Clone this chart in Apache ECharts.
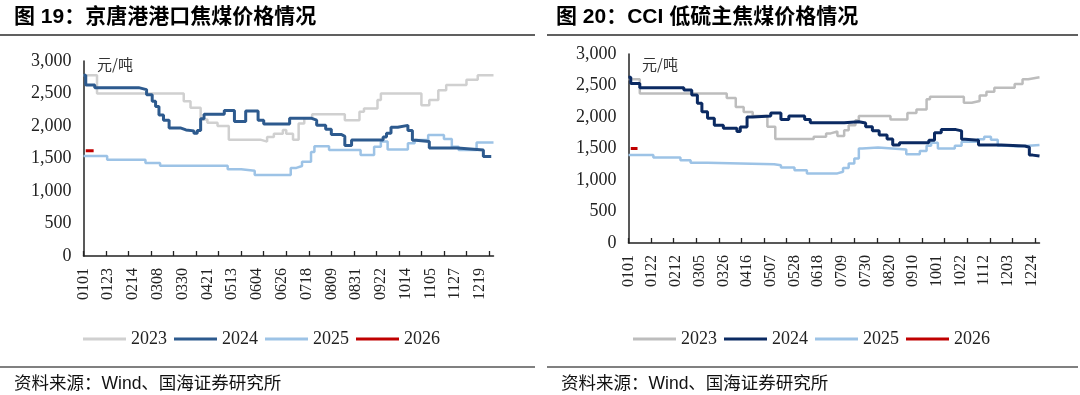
<!DOCTYPE html>
<html>
<head>
<meta charset="utf-8">
<script src="https://cdn.jsdelivr.net/npm/echarts@6/dist/echarts.min.js"></script>
<style>
html,body{margin:0;padding:0;background:#fff;}
#main{width:1080px;height:395px;}
</style>
</head>
<body>
<div id="main"></div>
<script>
// ---- Categories: every day of a (non-leap) year, MMDD ----
const monthDays = [31,28,31,30,31,30,31,31,30,31,30,31];
const days = [];
for (let m = 0; m < 12; m++) {
  for (let d = 1; d <= monthDays[m]; d++) {
    days.push(String(m + 1).padStart(2, '0') + String(d).padStart(2, '0'));
  }
}
const seriesNames = ['2023', '2024', '2025', '2026'];
const yTicks = [0, 500, 1000, 1500, 2000, 2500, 3000];

// ---- Chart 19: 京唐港港口焦煤价格 (values at change dates, held until next date) ----
const jt2023Dates = ['0101','0113','0331','0406','0415','0421','0430','0510','0607','0613','0619','0627','0630','0706','0711','0716','0723','0821','0903','0907','0919','0922','1028','1104','1112','1119','1207','1217','1231'];
const jt2023Vals  = [2780,2500,2380,2280,2100,2050,2000,1790,1760,1830,1880,1940,1880,1790,2040,2120,2180,2090,2220,2270,2400,2500,2320,2400,2550,2630,2710,2780,2780];
const jt2024Dates = ['0101','0103','0111','0219','0226','0303','0306','0309','0313','0318','0328','0402','0409','0412','0415','0418','0506','0515','0525','0605','0610','0703','0722','0727','0804','0809','0818','0821','0827','0924','0927','1001','1007','1016','1020','1023','1104','1129','1222','1229'];
const jt2024Vals  = [2780,2630,2590,2560,2480,2380,2300,2170,2090,1970,1940,1925,1890,1930,2110,2180,2240,2070,2230,2090,2030,2120,2090,2010,1950,1870,1840,1700,1785,1830,1890,1980,2010,1930,1780,1760,1660,1630,1530,1530];
const jt2025Dates = ['0101','0122','0225','0310','0509','0521','0602','0704','0709','0714','0722','0725','0807','0904','0916','0922','0928','1016','1022','1103','1117','1124','1130','1216','1231'];
const jt2025Vals  = [1540,1480,1430,1390,1335,1310,1245,1355,1385,1450,1600,1690,1630,1555,1680,1760,1640,1735,1785,1860,1800,1680,1630,1745,1745];
const jt2026Dates = ['0103','0110'];
const jt2026Vals  = [1620,1620];

// ---- Chart 20: CCI 低硫主焦煤价格 ----
const cci2023Dates = ['0101','0111','0329','0406','0413','0421','0504','0511','0614','0625','0629','0705','0711','0715','0721','0724','0821','0905','0913','0922','0925','1025','1101','1108','1114','1121','1209','1216','1221','1231'];
const cci2023Vals  = [2600,2375,2300,2160,2080,2015,1845,1650,1685,1740,1770,1700,1790,1870,1950,2015,1960,2065,2120,2280,2320,2225,2255,2340,2400,2465,2525,2600,2630,2630];
const cci2024Dates = ['0101','0103','0111','0219','0226','0303','0307','0312','0318','0326','0407','0410','0416','0421','0507','0516','0523','0606','0611','0711','0724','0730','0805','0811','0818','0823','0829','0924','0929','1005','1018','1023','1026','1107','1127','1218','1222','1225','1231'];
const cci2024Vals  = [2630,2530,2465,2430,2350,2220,2085,1980,1870,1820,1770,1840,2000,2015,2065,1960,2015,1960,1910,1925,1905,1845,1780,1715,1650,1555,1590,1630,1750,1800,1780,1645,1630,1555,1540,1520,1395,1380,1380];
const cci2025Dates = ['0101','0123','0216','0225','0312','0510','0516','0528','0608','0705','0710','0715','0720','0724','0727','0810','0904','0916','0922','0926','1002','1017','1023','1106','1112','1118','1124','1203','1212','1231'];
const cci2025Vals  = [1395,1357,1315,1272,1251,1235,1200,1156,1105,1130,1190,1262,1340,1500,1515,1485,1410,1460,1545,1590,1500,1545,1606,1645,1685,1640,1545,1530,1555,1555];
const cci2026Dates = ['0103','0109'];
const cci2026Vals  = [1500,1500];

// ---- build helpers ----
function pairs(dates, vals) {
  return dates.map((d, i) => [days.indexOf(d), vals[i]]);
}
const serifFont = '"Liberation Serif", "Times New Roman", serif';
const cjkFont = '"Liberation Sans", Arial, "Noto Sans CJK SC", sans-serif';
function fmtThousands(v) { return String(v).replace(/\B(?=(\d{3})+(?!\d))/g, ','); }

const leftColors  = ['#d0d0d0', '#2d5a8e', '#9dc3e6', '#c00000'];
const rightColors = ['#bdbdbd', '#0b2a62', '#9dc3e6', '#c00000'];

function xAxisCfg(gridIndex, labelInterval) {
  return {
    type: 'category', gridIndex: gridIndex, data: days, boundaryGap: false,
    axisLine: { show: true, lineStyle: { color: '#222', width: 1.5 } },
    axisTick: { show: true, inside: true, length: 5, interval: 19, lineStyle: { color: '#222', width: 1.3 } },
    axisLabel: { interval: labelInterval, rotate: 90, margin: 12, fontFamily: serifFont, fontSize: 16, color: '#222' },
    splitLine: { show: false }
  };
}
function yAxisCfg(gridIndex) {
  return {
    type: 'value', gridIndex: gridIndex, min: 0, max: 3000, interval: 500,
    axisLine: { show: true, lineStyle: { color: '#222', width: 1.5 } },
    axisTick: { show: false },
    axisLabel: { margin: 12, fontFamily: serifFont, fontSize: 18, color: '#222', formatter: fmtThousands },
    splitLine: { show: false }
  };
}
function lineSeries(name, idx, data, color, width, z) {
  return {
    name: name, type: 'line', xAxisIndex: idx, yAxisIndex: idx, data: data,
    step: 'end', showSymbol: false, symbol: 'none', z: z,
    lineStyle: { color: color, width: width }, itemStyle: { color: color }
  };
}
function legendCfg(left, colors) {
  return {
    left: left, top: 325, icon: 'rect', itemWidth: 43, itemHeight: 3, itemGap: 7,
    textStyle: { fontFamily: serifFont, fontSize: 18, color: '#222' },
    data: seriesNames.map((n, i) => ({ name: n, itemStyle: { color: colors[i] } })),
    selectedMode: false
  };
}

const leftData = [pairs(jt2023Dates, jt2023Vals), pairs(jt2024Dates, jt2024Vals), pairs(jt2025Dates, jt2025Vals), pairs(jt2026Dates, jt2026Vals)];
const rightData = [pairs(cci2023Dates, cci2023Vals), pairs(cci2024Dates, cci2024Vals), pairs(cci2025Dates, cci2025Vals), pairs(cci2026Dates, cci2026Vals)];
const widths = [2.5, 3, 2.5, 3];
const zs = [2, 4, 3, 5];

const series = [];
seriesNames.forEach((n, i) => series.push(lineSeries(n, 0, leftData[i], leftColors[i], widths[i], zs[i])));
seriesNames.forEach((n, i) => series.push(lineSeries(n, 1, rightData[i], rightColors[i], widths[i], zs[i])));

const titleStyle = { fontFamily: cjkFont, fontWeight: 'bold', fontSize: 21, color: '#000' };
const srcStyle = { fontFamily: cjkFont, fontWeight: 'normal', fontSize: 17.5, color: '#111' };
const unitStyle = { fontFamily: '"Noto Sans CJK SC", sans-serif', fontWeight: 'normal', fontSize: 15, color: '#333' };

const option = {
  animation: false,
  backgroundColor: '#fff',
  title: [
    { text: '图 19：京唐港港口焦煤价格情况', left: 14, top: 7, padding: 0, textStyle: titleStyle },
    { text: '图 20：CCI 低硫主焦煤价格情况', left: 556, top: 7, padding: 0, textStyle: titleStyle },
    { text: '资料来源：Wind、国海证券研究所', left: 14, top: 375, padding: 0, textStyle: srcStyle },
    { text: '资料来源：Wind、国海证券研究所', left: 561, top: 375, padding: 0, textStyle: srcStyle },
    { text: '元/吨', left: 97, top: 57, padding: 0, textStyle: unitStyle },
    { text: '元/吨', left: 642, top: 57, padding: 0, textStyle: unitStyle }
  ],
  graphic: [
    { type: 'line', shape: { x1: 0, y1: 35, x2: 535, y2: 35 }, style: { stroke: '#606060', lineWidth: 2 } },
    { type: 'line', shape: { x1: 547, y1: 35, x2: 1078, y2: 35 }, style: { stroke: '#606060', lineWidth: 2 } },
    { type: 'line', shape: { x1: 0, y1: 367, x2: 535, y2: 367 }, style: { stroke: '#808080', lineWidth: 2 } },
    { type: 'line', shape: { x1: 547, y1: 367, x2: 1078, y2: 367 }, style: { stroke: '#808080', lineWidth: 2 } }
  ],
  legend: [legendCfg(78, leftColors), legendCfg(628, rightColors)],
  grid: [
    { left: 83.5, top: 61, width: 410, height: 195 },
    { left: 628.5, top: 54, width: 411, height: 189 }
  ],
  xAxis: [xAxisCfg(0, 21), xAxisCfg(1, 20)],
  yAxis: [yAxisCfg(0), yAxisCfg(1)],
  series: series
};

const chart = echarts.init(document.getElementById('main'), null, { renderer: 'canvas' });
chart.setOption(option);
</script>
</body>
</html>
